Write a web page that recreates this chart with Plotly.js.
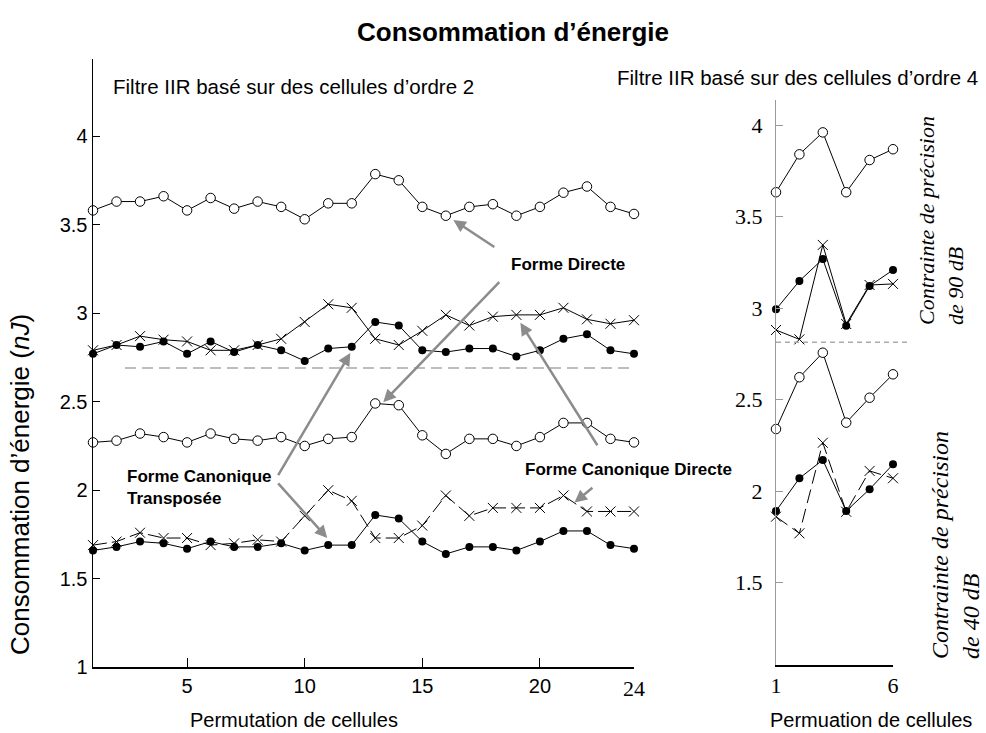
<!DOCTYPE html>
<html>
<head>
<meta charset="utf-8">
<script src="https://cdn.plot.ly/plotly-3.0.1.min.js"></script>
<style>html,body{margin:0;padding:0;background:#fff;}#chart{width:986px;height:733px;}</style>
</head>
<body>
<div id="chart"></div>
<script>
// ---- data: IIR filter, order-2 cells (24 permutations) ----
const perm24 = [1,2,3,4,5,6,7,8,9,10,11,12,13,14,15,16,17,18,19,20,21,22,23,24];
const fd90  = [3.58,3.63,3.63,3.66,3.58,3.65,3.59,3.63,3.60,3.53,3.62,3.62,3.785,3.75,3.60,3.55,3.60,3.615,3.55,3.60,3.68,3.715,3.60,3.56];
const fct90 = [2.77,2.82,2.81,2.84,2.77,2.84,2.78,2.82,2.79,2.73,2.80,2.81,2.95,2.93,2.79,2.78,2.80,2.80,2.755,2.79,2.855,2.88,2.79,2.77];
const fcd90 = [2.79,2.82,2.87,2.85,2.84,2.79,2.79,2.82,2.855,2.95,3.05,3.03,2.855,2.82,2.90,2.99,2.93,2.98,2.99,2.99,3.03,2.965,2.94,2.96];
const fd40  = [2.27,2.28,2.32,2.30,2.27,2.32,2.29,2.28,2.30,2.25,2.29,2.30,2.49,2.48,2.31,2.205,2.29,2.29,2.25,2.30,2.38,2.38,2.29,2.27];
const fct40 = [1.66,1.68,1.71,1.70,1.67,1.71,1.68,1.68,1.70,1.66,1.69,1.69,1.86,1.84,1.71,1.64,1.68,1.68,1.66,1.71,1.77,1.77,1.69,1.67];
const fcd40 = [1.69,1.71,1.76,1.73,1.73,1.69,1.70,1.72,1.71,1.855,2.00,1.94,1.73,1.73,1.80,1.97,1.855,1.90,1.90,1.90,1.97,1.88,1.88,1.88];
const limit2 = 2.69;          // separation between 90 dB and 40 dB groups
const limit2Start = 2.36;

// ---- data: IIR filter, order-4 cells (6 permutations) ----
const perm6 = [1,2,3,4,5,6];
const r_fd90  = [3.634,3.841,3.961,3.634,3.810,3.869];
const r_fct90 = [2.994,3.149,3.269,2.905,3.122,3.209];
const r_fcd90 = [2.881,2.830,3.346,2.914,3.127,3.133];
const r_fd40  = [2.340,2.623,2.757,2.375,2.511,2.639];
const r_fct40 = [1.892,2.071,2.171,1.892,2.011,2.147];
const r_fcd40 = [1.861,1.770,2.265,1.888,2.111,2.071];
const limit4 = 2.814;

// ---- tick labels ----
const xTicksLeft = [5,10,15,20];
const xLastLeft = 24;
const yTicks = [1,1.5,2,2.5,3,3.5,4];
const yTicksRight = [1.5,2,2.5,3,3.5,4];
const xTicksRight = [1,6];

const W = 986, H = 733;
const px = v => v / W;
const py = v => 1 - v / H;
const SANS = 'Liberation Sans, Arial, sans-serif';
const SERIF = 'Liberation Serif, Times New Roman, serif';

const openC = {symbol:'circle', size:9.5, color:'white', line:{color:'black', width:1}};
const fillC = {symbol:'circle', size:8, color:'black', line:{color:'black', width:0}};
const crossM = {symbol:'x-thin-open', size:10, color:'black', line:{color:'black', width:1}};

function tr(x, y, marker, xa, ya, dash) {
  return {x:x, y:y, xaxis:xa, yaxis:ya, type:'scatter', mode:'lines+markers',
    line:{color:'black', width:1, dash:dash || 'solid'}, marker:marker, cliponaxis:false,
    showlegend:false, hoverinfo:'x+y'};
}

const data = [
  tr(perm24, fd90, openC, 'x', 'y'),
  tr(perm24, fcd90, crossM, 'x', 'y'),
  tr(perm24, fct90, fillC, 'x', 'y'),
  tr(perm24, fd40, openC, 'x', 'y'),
  tr(perm24, fcd40, crossM, 'x', 'y', '14px,5px'),
  tr(perm24, fct40, fillC, 'x', 'y'),
  tr(perm6, r_fd90, openC, 'x2', 'y2'),
  tr(perm6, r_fcd90, crossM, 'x2', 'y2'),
  tr(perm6, r_fct90, fillC, 'x2', 'y2'),
  tr(perm6, r_fd40, openC, 'x2', 'y2'),
  tr(perm6, r_fcd40, crossM, 'x2', 'y2', '14px,6px'),
  tr(perm6, r_fct40, fillC, 'x2', 'y2')
];

function arrow(hx, hy, tx, ty) {
  return {xref:'x', yref:'y', axref:'x', ayref:'y', x:hx, y:hy, ax:tx, ay:ty, text:' ',
    showarrow:true, arrowhead:2, arrowsize:1, arrowwidth:2.5, arrowcolor:'#8c8c8c',
    standoff:0, startstandoff:0};
}
function txt(t, x, y, opts) {
  return Object.assign({xref:'paper', yref:'paper', x:px(x), y:py(y), text:t, showarrow:false,
    xanchor:'center', yanchor:'middle', font:{family:SANS, size:20, color:'black'}}, opts || {});
}

const annotations = [
  // arrows
  arrow(16.32, 3.526, 18.19, 3.362),
  arrow(13.34, 2.497, 18.40, 3.192),
  arrow(11.94, 2.775, 8.745, 2.057),
  arrow(10.96, 1.730, 8.745, 2.057),
  arrow(19.17, 2.945, 22.57, 2.227),
  arrow(21.47, 1.930, 22.36, 2.028),
  // labels
  txt('<b>Forme Directe</b>', 568, 264, {font:{family:SANS, size:17, color:'black'}}),
  txt('<b>Forme Canonique<br>Transposée</b>', 125, 487, {xanchor:'left', align:'left', font:{family:SANS, size:17, color:'black'}}),
  txt('<b>Forme Canonique Directe</b>', 523, 469, {xanchor:'left', font:{family:SANS, size:17, color:'black'}}),
  txt('Filtre IIR basé sur des cellules d’ordre 2', 111, 86, {xanchor:'left', font:{family:SANS, size:20.5, color:'black'}}),
  txt('Filtre IIR basé sur des cellules d’ordre 4', 797, 77, {font:{family:SANS, size:20.5, color:'black'}}),
  txt('Consommation d’énergie (<i>nJ</i>)', 20, 485, {textangle:-90, font:{family:SANS, size:26, color:'black'}}),
  txt('Permutation de cellules', 294, 720),
  txt('Permuation de cellules', 871, 720),
  {xref:'x', yref:'paper', x:xLastLeft, y:py(688), text:String(xLastLeft), showarrow:false,
    xanchor:'center', yanchor:'middle', font:{family:SERIF, size:22, color:'black'}},
  txt('<i>Contrainte de précision<br>de 90 dB</i>', 941, 221, {textangle:-90, align:'left', font:{family:SERIF, size:22, color:'black'}}),
  txt('<i>Contrainte de précision<br>de 40 dB</i>', 955, 545, {textangle:-90, align:'left', font:{family:SERIF, size:24, color:'black'}})
];

const shapes = [
  {type:'line', xref:'x', yref:'y', x0:limit2Start, x1:24, y0:limit2, y1:limit2,
    line:{color:'#bdbdbd', width:2, dash:'11px,6px'}},
  {type:'line', xref:'paper', yref:'y2', x0:px(776), x1:px(907), y0:limit4, y1:limit4,
    line:{color:'#aaaaaa', width:1.5, dash:'5px,4px'}}
];

const layout = {
  width:W, height:H, margin:{l:0, r:0, t:0, b:0}, paper_bgcolor:'white', plot_bgcolor:'white',
  showlegend:false,
  title:{text:'<b>Consommation d’énergie</b>', x:px(513), y:py(32), xanchor:'center', yanchor:'middle',
    xref:'paper', yref:'paper', font:{family:SANS, size:26, color:'black'}},
  font:{family:SANS, color:'black'},
  xaxis:{domain:[px(93), px(634)], range:[1,24], showgrid:false, zeroline:false, showline:true,
    linecolor:'black', linewidth:1.5, ticks:'inside', ticklen:9, tickcolor:'black', tickwidth:1,
    tickvals:xTicksLeft, tickfont:{family:SANS, size:20, color:'black'}, anchor:'y'},
  yaxis:{domain:[1-667.3/H, 1-59/H], range:[1, 4.435], showgrid:false, zeroline:false, showline:true,
    linecolor:'black', linewidth:1.5, ticks:'inside', ticklen:7, tickcolor:'black', tickwidth:1,
    tickvals:yTicks, tickfont:{family:SANS, size:20, color:'black'}, anchor:'x'},
  xaxis2:{domain:[px(776), px(893)], range:[1,6], showgrid:false, zeroline:false, showline:true,
    linecolor:'black', linewidth:1.5, ticks:'inside', ticklen:9, tickcolor:'black', tickwidth:1,
    tickvals:xTicksRight, tickfont:{family:SERIF, size:22, color:'black'}, anchor:'y2'},
  yaxis2:{domain:[1-665/H, 1-100/H], range:[1.0505, 4.138], showgrid:false, zeroline:false, showline:true,
    linecolor:'#9a9a9a', linewidth:1, ticks:'inside', ticklen:7, tickcolor:'#9a9a9a', tickwidth:1,
    tickvals:yTicksRight, tickfont:{family:SERIF, size:22, color:'black'}, ticklabelstandoff:8, anchor:'x2'},
  annotations:annotations,
  shapes:shapes
};

Plotly.newPlot('chart', data, layout, {staticPlot:true, displayModeBar:false});
</script>
</body>
</html>
